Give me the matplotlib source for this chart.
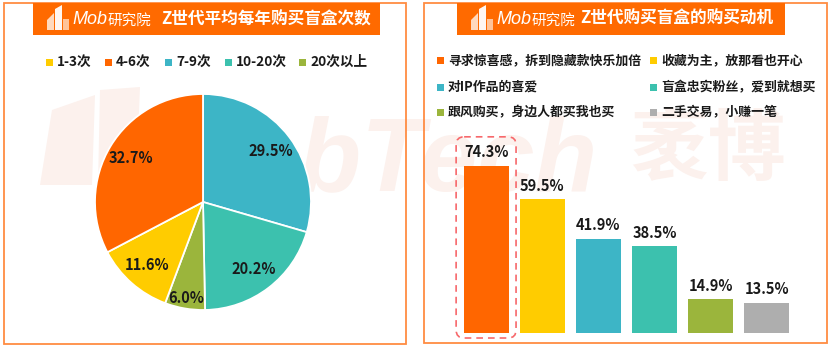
import numpy as np
import matplotlib
matplotlib.use("Agg")
import matplotlib.pyplot as plt
from matplotlib.patches import Rectangle, FancyBboxPatch, Polygon

plt.rcParams['font.family'] = ['Noto Sans CJK SC', 'DejaVu Sans']

# ---- data ----
freq_labels = ["1-3次", "4-6次", "7-9次", "10-20次", "20次以上"]
freq_values = [11.6, 32.7, 29.5, 20.2, 6.0]
freq_colors = ["#FFCC00", "#FF6600", "#3DB5C6", "#3CC1AE", "#9BB53C"]
pie_order = [2, 3, 4, 0, 1]   # wedges clockwise from 12 o'clock

motive_labels = ["寻求惊喜感，拆到隐藏款快乐加倍", "收藏为主，放那看也开心",
                 "对IP作品的喜爱", "盲盒忠实粉丝，爱到就想买",
                 "跟风购买，身边人都买我也买", "二手交易，小赚一笔"]
motive_values = [74.3, 59.5, 41.9, 38.5, 14.9, 13.5]
motive_colors = ["#FF6600", "#FFCC00", "#3DB5C6", "#3CC1AE", "#9BB53C", "#AEAEAE"]

title_left = "Z世代平均每年购买盲盒次数"
title_right = "Z世代购买盲盒的购买动机"

W, H = 831, 349
ORANGE = "#FF6A00"
BORDER = "#FF8C42"
TXT = "#1A1A1A"

fig = plt.figure(figsize=(W / 100, H / 100), dpi=100)
fig.patch.set_facecolor("white")

bg = fig.add_axes([0, 0, 1, 1])
bg.set_xlim(0, W)
bg.set_ylim(H, 0)
bg.axis("off")

# faint watermark
wm = "#FCF1ED"
bg.add_patch(Polygon([(40, 185), (52, 110), (95, 95), (92, 185)], closed=True,
                     fc=wm, ec="none", zorder=0))
bg.add_patch(Polygon([(98, 185), (100, 90), (140, 87), (136, 185)], closed=True,
                     fc=wm, ec="none", zorder=0))
bg.text(150, 190, "MobTech", fontsize=74, fontweight="bold", style="italic",
        family="Liberation Sans", color=wm, ha="left", va="baseline", zorder=0)
bg.text(630, 151, "袤博", fontsize=56, fontweight="bold", style="italic",
        color=wm, ha="left", va="center", zorder=0)

# panel frames
bg.add_patch(Rectangle((4, 3), 402, 341, fill=False, ec=BORDER, lw=1.3, zorder=5))
bg.add_patch(Rectangle((424, 3), 403, 340, fill=False, ec=BORDER, lw=1.3, zorder=5))


def banner(x0, x1, title, title_x):
    bg.add_patch(Rectangle((x0, 3), x1 - x0, 32, fc=ORANGE, ec="none", zorder=6))
    ix = x0 + 14
    bg.add_patch(Polygon([(ix, 30), (ix, 20), (ix + 7, 13), (ix + 7, 30)],
                         fc="white", alpha=0.75, ec="none", zorder=7))
    bg.add_patch(Polygon([(ix + 8, 30), (ix + 8, 9), (ix + 15, 5), (ix + 15, 30)],
                         fc="white", alpha=0.95, ec="none", zorder=7))
    bg.add_patch(Polygon([(ix + 16, 30), (ix + 16, 19), (ix + 22, 19), (ix + 22, 30)],
                         fc="white", alpha=0.6, ec="none", zorder=7))
    bg.text(ix + 25, 20, "Mob", fontsize=13, style="italic", color="white",
            family="Liberation Sans", ha="left", va="center", zorder=8)
    bg.text(ix + 61, 21, "研究院", fontsize=10.5, style="italic", color="white",
            ha="left", va="center", zorder=8)
    bg.text(title_x, 19, title, fontsize=12, fontweight="bold", color="white",
            ha="left", va="center", zorder=8)


banner(33, 380, title_left, 161)
banner(457, 785, title_right, 580)

# left legend
leg_x = [49, 108, 168, 228, 302]
for x, lab, c in zip(leg_x, freq_labels, freq_colors):
    bg.add_patch(Rectangle((x - 3.5, 58.5), 7, 7, fc=c, ec="none", zorder=6))
    bg.text(x + 8, 62, lab, fontsize=9.8, fontweight="bold", color=TXT,
            ha="left", va="center", zorder=6)

# right legend
rl_pos = [(440, 60), (653, 60), (440, 87), (653, 87), (440, 112), (653, 112)]
for (x, y), lab, c in zip(rl_pos, motive_labels, motive_colors):
    bg.add_patch(Rectangle((x - 3.5, y - 3.5), 7, 7, fc=c, ec="none", zorder=6))
    bg.text(x + 8, y, lab, fontsize=9.3, fontweight="bold", color=TXT,
            ha="left", va="center", zorder=6)

# ---- pie ----
cx, cy, r = 203, 202, 108
axp = fig.add_axes([(cx - r) / W, (H - cy - r) / H, 2 * r / W, 2 * r / H])
vals = [freq_values[i] for i in pie_order]
cols = [freq_colors[i] for i in pie_order]
wedges, _ = axp.pie(vals, colors=cols, startangle=90, counterclock=False,
                    wedgeprops=dict(edgecolor="white", linewidth=1.3))
axp.set_xlim(-1, 1)
axp.set_ylim(-1, 1)
axp.axis("off")
for w, v in zip(wedges, vals):
    ang = np.deg2rad((w.theta1 + w.theta2) / 2)
    d = 0.9 if v < 8 else 0.78
    axp.text(d * np.cos(ang), d * np.sin(ang), f"{v:.1f}%", fontsize=10.5,
             fontweight="bold", color=TXT, ha="center", va="center")

# ---- bars ----
bl, br, bb, bt = 458, 795, 333, 153
axb = fig.add_axes([bl / W, (H - bb) / H, (br - bl) / W, (bb - bt) / H])
xs = np.arange(len(motive_values))
axb.bar(xs, motive_values, width=0.8, color=motive_colors)
axb.set_xlim(-0.5, len(motive_values) - 0.5)
axb.set_ylim(0, 80)
axb.axis("off")
for x, v in zip(xs, motive_values):
    axb.annotate(f"{v:.1f}%", (x, v), xytext=(0, 4), textcoords="offset points",
                 ha="center", va="bottom", fontsize=10.5, fontweight="bold",
                 color=TXT, annotation_clip=False)

# dashed highlight around the leading bar
top_idx = int(np.argmax(motive_values))
(px0, py_top) = axb.transData.transform((top_idx - 0.4, motive_values[top_idx]))
(px1, py_base) = axb.transData.transform((top_idx + 0.4, 0))
rx0, rx1 = px0 - 7.5, px1 + 7.5
ry0, ry1 = H - py_top - 29, H - py_base + 5
bg.add_patch(FancyBboxPatch((rx0, ry0), rx1 - rx0, ry1 - ry0,
                            boxstyle="round,pad=0,rounding_size=8",
                            fill=False, ec="#F7686B", lw=1.2,
                            linestyle=(0, (4, 3)), zorder=6))

fig.savefig("out.png", dpi=100, facecolor="white")
